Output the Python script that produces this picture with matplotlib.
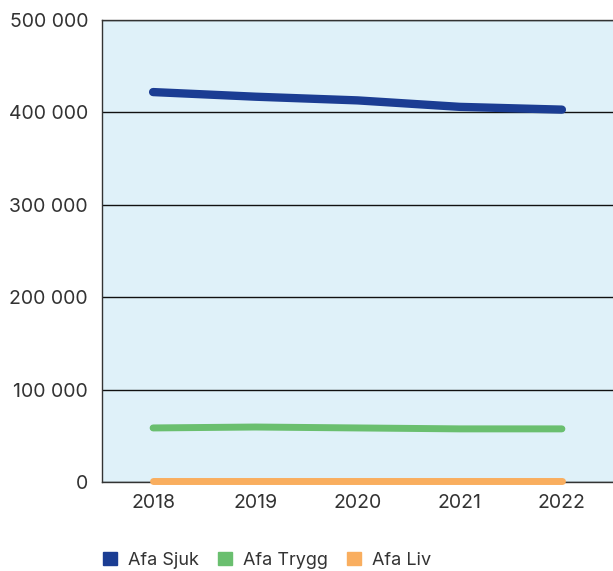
import numpy as np
import matplotlib.pyplot as plt
from matplotlib.patches import Patch
from matplotlib.ticker import FuncFormatter

plt.rcParams['font.family'] = ['Inter', 'DejaVu Sans']

years = ['2018', '2019', '2020', '2021', '2022']
afa_sjuk = [422000, 417000, 413000, 406000, 403000]
afa_trygg = [58500, 59500, 58500, 57500, 57500]
afa_liv = [1200, 1200, 1200, 1200, 1200]

blue = '#1b3d93'
green = '#6abf6f'
orange = '#f9ae5f'

fig = plt.figure(figsize=(6.13, 5.71), dpi=100)
ax = fig.add_axes([102 / 613, (571 - 482) / 571, 511 / 613, 462 / 571])
ax.set_facecolor('#dff1f9')

x = np.arange(len(years))
ax.plot(x, afa_sjuk, color=blue, lw=6, solid_capstyle='round', zorder=3)
ax.plot(x, afa_trygg, color=green, lw=5, solid_capstyle='round', zorder=3)
ax.plot(x, afa_liv, color=orange, lw=5, solid_capstyle='round', zorder=3, clip_on=False)

ax.set_xlim(-0.5, 4.5)
ax.set_ylim(0, 500000)
ax.set_xticks(x)
ax.set_xticklabels(years)
ax.set_yticks(np.arange(0, 500001, 100000))
ax.yaxis.set_major_formatter(FuncFormatter(lambda v, p: f'{int(v):,}'.replace(',', ' ')))
ax.grid(axis='y', color='#111111', lw=1)
ax.set_axisbelow(True)
ax.tick_params(length=0, labelsize=14, colors='#333333')
ax.tick_params(axis='y', pad=10)
ax.tick_params(axis='x', pad=9)

for s in ['left', 'top', 'bottom']:
    ax.spines[s].set_color('#333333')
    ax.spines[s].set_linewidth(1)
ax.spines['right'].set_visible(False)

handles = [Patch(color=blue, label='Afa Sjuk'),
           Patch(color=green, label='Afa Trygg'),
           Patch(color=orange, label='Afa Liv')]
fig.legend(handles=handles, loc='lower left', bbox_to_anchor=(87 / 613, -14 / 571),
           ncol=3, frameon=False, fontsize=13, handlelength=0.75, handleheight=0.75,
           handletextpad=0.6, columnspacing=1.1, labelcolor='#333333')

fig.savefig('out.png', dpi=100)
